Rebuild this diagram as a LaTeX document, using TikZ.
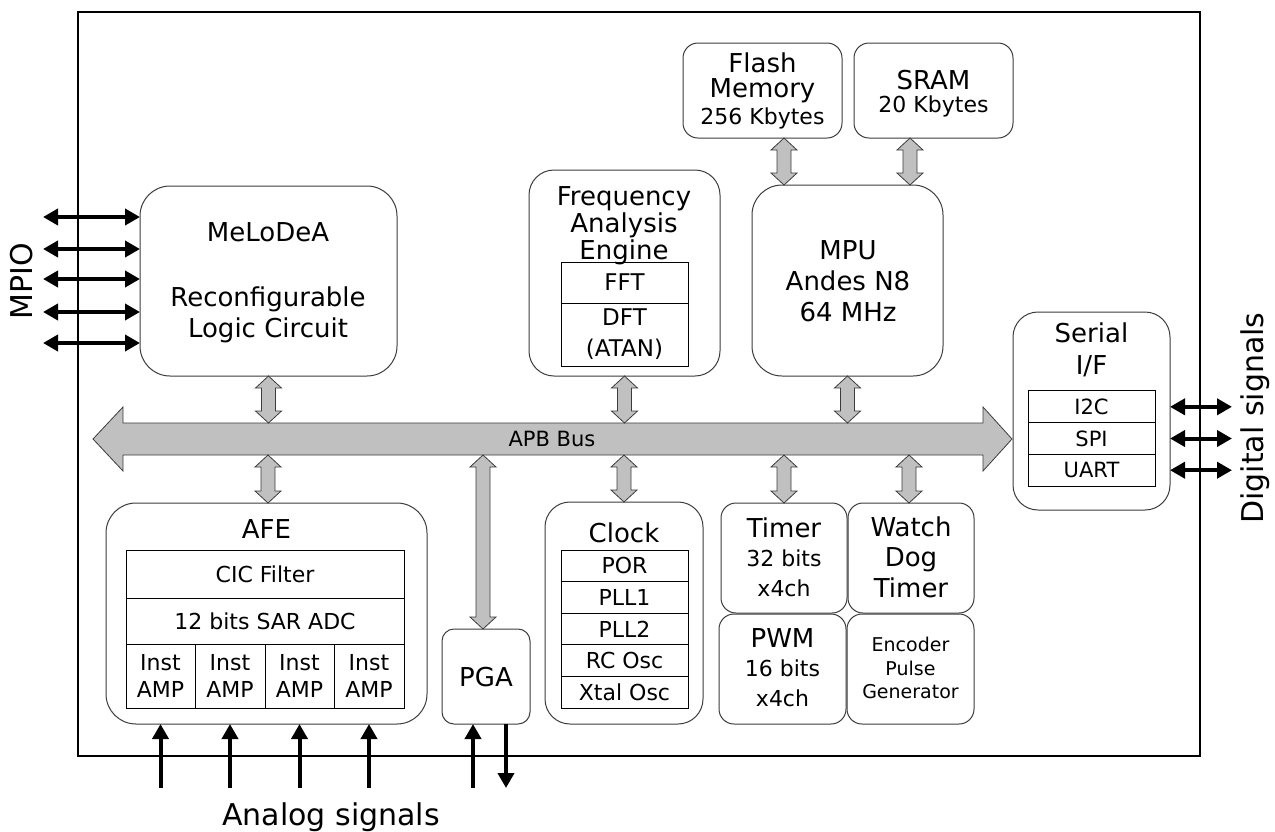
\documentclass[tikz,border=0pt]{standalone}
\usepackage{fontspec}
\setmainfont{DejaVu Sans}
\usetikzlibrary{arrows.meta,calc}
\definecolor{busgray}{HTML}{C0C0C0}
\definecolor{edgegray}{HTML}{3C3C3C}
\newcommand\fsL{\fontsize{26}{31}\selectfont}
\newcommand\fsM{\fontsize{22}{27}\selectfont}
\newcommand\fsS{\fontsize{19}{23.5}\selectfont}
\newcommand\fsX{\fontsize{30}{36}\selectfont}
\newcommand\fatv[3]{%
  \path[fatarrow] let \p1=($#2+(#1,0)$), \p2=#3 in
    (\x1,\y1) -- (\x1+13pt,\y1-12pt) -- (\x1+7pt,\y1-12pt) -- (\x1+7pt,\y2+12pt)
    -- (\x1+13pt,\y2+12pt) -- (\x1,\y2) -- (\x1-13pt,\y2+12pt) -- (\x1-7pt,\y2+12pt)
    -- (\x1-7pt,\y1-12pt) -- (\x1-13pt,\y1-12pt) -- cycle;}
\tikzset{
  box/.style={draw=edgegray, line width=1pt, fill=white, inner sep=0pt, outer sep=0pt, rounded corners=#1},
  box/.default=15pt,
  cell/.style={draw=black, line width=1pt, inner sep=0pt, outer sep=0pt, align=center, font=\fsM},
  lbl/.style={inner sep=0pt, align=center},
  fatarrow/.style={fill=busgray, draw=edgegray, line width=0.8pt, line join=miter},
  sig/.style={line width=4pt, -{Triangle[width=16pt,length=15pt]}},
  sigd/.style={line width=4pt, {Triangle[width=16pt,length=15pt]}-{Triangle[width=16pt,length=15pt]}},
}
\begin{document}
\begin{tikzpicture}[x=1pt,y=-1pt]
\useasboundingbox (0,0) rectangle (1275,831);
\draw[line width=1.5pt] (78,12) rectangle (1200,756);

% boxes
\node[box=30pt, minimum width=257pt, minimum height=190pt] (mel) at (268.5,281) {};
\node[box=25pt, minimum width=191pt, minimum height=206pt] (freq) at (624.5,273) {};
\node[box=30pt, minimum width=191pt, minimum height=191pt] (mpu) at (847.5,280.5) {};
\node[box=15pt, minimum width=159pt, minimum height=95pt] (flash) at (762.5,90.5) {};
\node[box=15pt, minimum width=159pt, minimum height=95pt] (sram) at (933.5,90.5) {};
\node[box=25pt, minimum width=157pt, minimum height=198pt] (serial) at (1091.5,411) {};
\node[box=30pt, minimum width=321pt, minimum height=221pt] (afe) at (266.5,613.5) {};
\node[box=12pt, minimum width=88pt, minimum height=95pt] (pga) at (486,676.5) {};
\node[box=25pt, minimum width=158pt, minimum height=222pt] (clock) at (624,613) {};
\node[box=15pt, minimum width=126pt, minimum height=110pt] (timer) at (784,558) {};
\node[box=15pt, minimum width=126pt, minimum height=110pt] (wdt) at (911,558) {};
\node[box=15pt, minimum width=127pt, minimum height=110pt] (pwm) at (782.5,669) {};
\node[box=15pt, minimum width=127pt, minimum height=110pt] (enc) at (910.5,669) {};

% cells
\node[cell, font=\fontsize{23}{31}\selectfont, minimum width=127pt, minimum height=41pt] (fft) at (624.5,282.5) {FFT};
\node[cell, font=\fontsize{23}{31}\selectfont, minimum width=127pt, minimum height=63pt] (dft) at (624.5,334.5) {DFT\\(ATAN)};

\node[cell, minimum width=127pt, minimum height=31.6pt] (por) at (624.5,565.8) {POR};
\node[cell, minimum width=127pt, minimum height=31.6pt] (pll1) at (624.5,597.4) {PLL1};
\node[cell, minimum width=127pt, minimum height=31.6pt] (pll2) at (624.5,629) {PLL2};
\node[cell, minimum width=127pt, minimum height=31.6pt] (rcosc) at (624.5,660.6) {RC Osc};
\node[cell, minimum width=127pt, minimum height=31.6pt] (xosc) at (624.5,692.2) {Xtal Osc};

\node[cell, font=\fontsize{21}{25}\selectfont, minimum width=127pt, minimum height=31.7pt] (i2c) at (1091.5,406.8) {I2C};
\node[cell, font=\fontsize{21}{25}\selectfont, minimum width=127pt, minimum height=31.7pt] (spi) at (1091.5,438.5) {SPI};
\node[cell, font=\fontsize{21}{25}\selectfont, minimum width=127pt, minimum height=31.7pt] (uart) at (1091.5,470.2) {UART};

\node[cell, minimum width=278pt, minimum height=48pt] (cic) at (265,574) {CIC Filter};
\node[cell, minimum width=278pt, minimum height=46pt] (adc) at (265,621) {12 bits SAR ADC};
\node[cell, minimum width=69pt, minimum height=64pt] (amp1) at (160.5,676) {Inst\\AMP};
\node[cell, minimum width=70pt, minimum height=64pt] (amp2) at (230,676) {Inst\\AMP};
\node[cell, minimum width=69pt, minimum height=64pt] (amp3) at (299.5,676) {Inst\\AMP};
\node[cell, minimum width=70pt, minimum height=64pt] (amp4) at (369,676) {Inst\\AMP};

% labels
\node[lbl, font=\fsL] (melT) at (268,283) {MeLoDeA\\[34pt]Reconfigurable\\Logic Circuit};
\node[lbl, font=\fontsize{26}{27}\selectfont] (freqT) at (624,226) {Frequency\\Analysis\\Engine};
\node[lbl, font=\fsL] (mpuT) at (848,281) {MPU\\Andes N8\\64 MHz};
\node[lbl, font=\fontsize{26}{25}\selectfont] (flashT) at (762.5,78) {Flash\\Memory};
\node[lbl, font=\fsM] (flashS) at (762.5,118) {256 Kbytes};
\node[lbl, font=\fsL] (sramT) at (933.5,80) {SRAM};
\node[lbl, font=\fsM] (sramS) at (933.5,106) {20 Kbytes};
\node[lbl, font=\fontsize{26}{32}\selectfont] (serT) at (1091.5,350) {Serial\\I/F};
\node[lbl, font=\fsL] (afeT) at (266.5,529) {AFE};
\node[lbl, font=\fsL] (pgaT) at (486,677) {PGA};
\node[lbl, font=\fsL] (clockT) at (624,533) {Clock};
\node[lbl, font=\fsL] (timerT) at (784,528) {Timer};
\node[lbl, font=\fontsize{22}{30}\selectfont] (timerS) at (784,573) {32 bits\\x4ch};
\node[lbl, font=\fontsize{26}{30.5}\selectfont] (wdtT) at (911,557) {Watch\\Dog\\Timer};
\node[lbl, font=\fsL] (pwmT) at (782.5,638) {PWM};
\node[lbl, font=\fontsize{22}{30}\selectfont] (pwmS) at (782.5,683) {16 bits\\x4ch};
\node[lbl, font=\fsS] (encT) at (910.5,668) {Encoder\\Pulse\\Generator};
\node[lbl, font=\fsX, rotate=90] (mpio) at (22,281) {MPIO};
\node[lbl, font=\fsX, rotate=90] (dig) at (1255,418) {Digital signals};
\node[lbl, font=\fsX] (ana) at (331,817) {Analog signals};

% APB bus
\coordinate (busT) at (93,423);
\coordinate (busB) at (93,455);
\path[fatarrow] (93,439) -- (123,407) -- (123,423) -- (983,423) -- (983,407) -- (1012,439)
  -- (983,471) -- (983,455) -- (123,455) -- (123,471) -- cycle;
\node[lbl, font=\fontsize{21}{25}\selectfont] (apbT) at (552,439) {APB Bus};

% gray bus connectors
\fatv{0}{(mel.south)}{(busT)}
\fatv{0}{(freq.south)}{(busT)}
\fatv{0}{(mpu.south)}{(busT)}
\fatv{21.5}{(flash.south)}{(mpu.north)}
\fatv{-23.5}{(sram.south)}{(mpu.north)}
\fatv{1.5}{(afe.north |- busB)}{(afe.north)}
\fatv{-3}{(pga.north |- busB)}{(pga.north)}
\fatv{0}{(clock.north |- busB)}{(clock.north)}
\fatv{0}{(timer.north |- busB)}{(timer.north)}
\fatv{-2}{(wdt.north |- busB)}{(wdt.north)}

% MPIO arrows
\foreach \i/\yy in {1/217,2/249,3/279,4/312,5/343} {
  \coordinate (m\i) at (43,\yy);
  \draw[sigd] (m\i) -- (m\i -| mel.west);
}

% digital arrows
\draw[sigd] (serial.east |- i2c) -- ++(62,0) coordinate (d1);
\draw[sigd] (serial.east |- spi) -- ++(62,0) coordinate (d2);
\draw[sigd] (serial.east |- uart) -- ++(62,0) coordinate (d3);

% analog arrows
\coordinate (abot) at (0,788);
\foreach \c in {amp1,amp2,amp3,amp4} {
  \draw[sig] (\c |- abot) -- (\c |- afe.south);
}
\draw[sig] ($(pga.south |- abot)+(-13,0)$) -- ($(pga.south)+(-13,0)$);
\draw[sig] ($(pga.south)+(20,0)$) -- ($(pga.south |- abot)+(20,0)$);
\end{tikzpicture}
\end{document}
